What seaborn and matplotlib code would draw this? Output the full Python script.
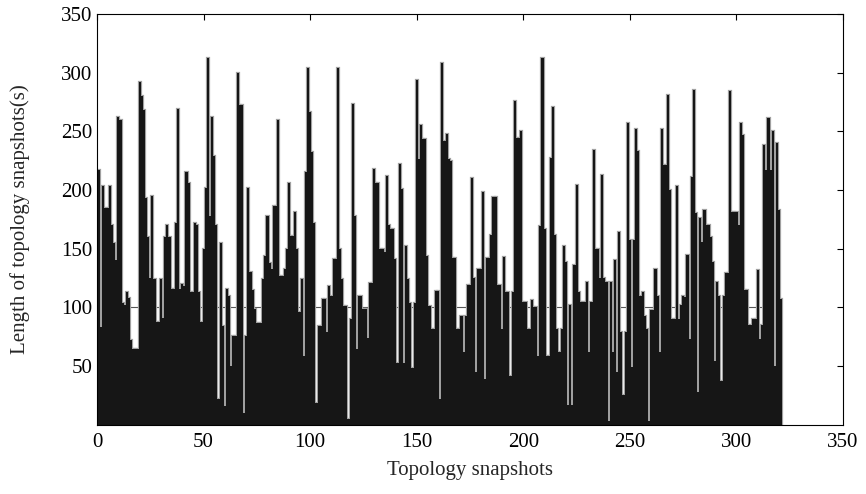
import numpy as np
import pandas as pd
import matplotlib
matplotlib.use("Agg")
import matplotlib.pyplot as plt
import seaborn as sns

# snapshot lengths, one value per snapshot (1..321)
lengths = [
    217, 83, 203, 185, 185, 203, 170, 155, 140, 262,
    260, 104, 102, 113, 108, 72, 65, 65, 65, 292,
    280, 268, 193, 160, 125, 195, 124, 88, 88, 124,
    91, 160, 170, 160, 116, 116, 172, 269, 116, 120,
    118, 215, 206, 113, 113, 172, 170, 113, 88, 150,
    202, 312, 178, 262, 229, 170, 22, 155, 84, 16,
    116, 110, 50, 76, 76, 300, 272, 272, 10, 76,
    202, 130, 115, 99, 87, 87, 87, 124, 144, 178,
    138, 133, 186, 186, 260, 127, 127, 133, 150, 206,
    161, 161, 181, 150, 96, 124, 59, 215, 304, 266,
    232, 172, 19, 84, 84, 107, 107, 79, 118, 110,
    141, 141, 304, 150, 124, 101, 101, 5, 90, 273,
    178, 65, 110, 110, 99, 99, 74, 121, 121, 218,
    206, 206, 150, 150, 147, 212, 170, 167, 167, 141,
    53, 222, 201, 53, 152, 124, 104, 48, 104, 294,
    226, 255, 243, 243, 144, 101, 82, 82, 114, 114,
    22, 308, 242, 248, 226, 225, 142, 142, 82, 82,
    93, 62, 93, 119, 119, 210, 125, 45, 133, 133,
    198, 39, 142, 142, 162, 194, 194, 119, 119, 82,
    143, 113, 113, 42, 113, 276, 244, 244, 250, 105,
    105, 82, 82, 106, 100, 100, 59, 169, 312, 167,
    59, 59, 227, 271, 162, 82, 62, 82, 152, 139,
    17, 102, 17, 136, 204, 113, 105, 105, 105, 122,
    62, 105, 234, 150, 150, 125, 213, 125, 122, 3,
    122, 62, 140, 45, 164, 79, 25, 79, 257, 157,
    49, 157, 252, 233, 110, 113, 93, 82, 3, 98,
    98, 133, 110, 62, 252, 221, 221, 281, 200, 90,
    90, 203, 90, 102, 110, 109, 145, 73, 211, 285,
    180, 28, 176, 156, 183, 170, 170, 160, 139, 54,
    122, 110, 37, 110, 129, 129, 284, 181, 181, 181,
    170, 257, 247, 115, 115, 85, 85, 90, 90, 132,
    73, 85, 238, 217, 261, 217, 250, 50, 240, 183,
    107,
]
snapshots = np.arange(1, len(lengths) + 1)

x_ticks = [0, 50, 100, 150, 200, 250, 300, 350]
y_ticks = [50, 100, 150, 200, 250, 300, 350]
ref_level = 100

df = pd.DataFrame({"snapshot": snapshots, "length": lengths})

sns.set_style("white")
plt.rcParams["font.family"] = ["Liberation Serif", "DejaVu Serif"]

fig = plt.figure(figsize=(8.66, 4.94), dpi=100)
ax = fig.add_axes([0.112, 0.140, 0.8615, 0.832])

# reference line at 100, only visible in the gaps between bars
ax.hlines(ref_level, 0, len(lengths) + 0.5, color="#555555", lw=0.8, zorder=0)

# grey outline layer, then solid black bars on top of it
sns.barplot(data=df, x="snapshot", y="length", native_scale=True,
            width=1.0, color="#a0a0a0", saturation=1, errorbar=None,
            edgecolor="#a0a0a0", linewidth=1.6, ax=ax, zorder=1)
sns.barplot(data=df, x="snapshot", y="length", native_scale=True,
            width=1.0, color="#161616", saturation=1, errorbar=None,
            linewidth=0, ax=ax, zorder=2)

ax.set_xlim(0, 350)
ax.set_ylim(0, 350)
ax.set_xticks(x_ticks)
ax.set_xticklabels([str(t) for t in x_ticks])
ax.set_yticks(y_ticks)
ax.set_yticklabels([str(t) for t in y_ticks])
ax.tick_params(direction="in", length=4, width=0.8, labelsize=15,
               top=True, right=True, colors="black")
ax.tick_params(axis="x", pad=6)

for s in ax.spines.values():
    s.set_visible(True)
    s.set_color("black")
    s.set_linewidth(0.8)
    s.set_zorder(5)

ax.set_xlabel("Topology snapshots", fontsize=15, labelpad=6)
ax.set_ylabel("Length of topology snapshots(s)", fontsize=15, labelpad=22)

fig.savefig("out.png", dpi=100)
